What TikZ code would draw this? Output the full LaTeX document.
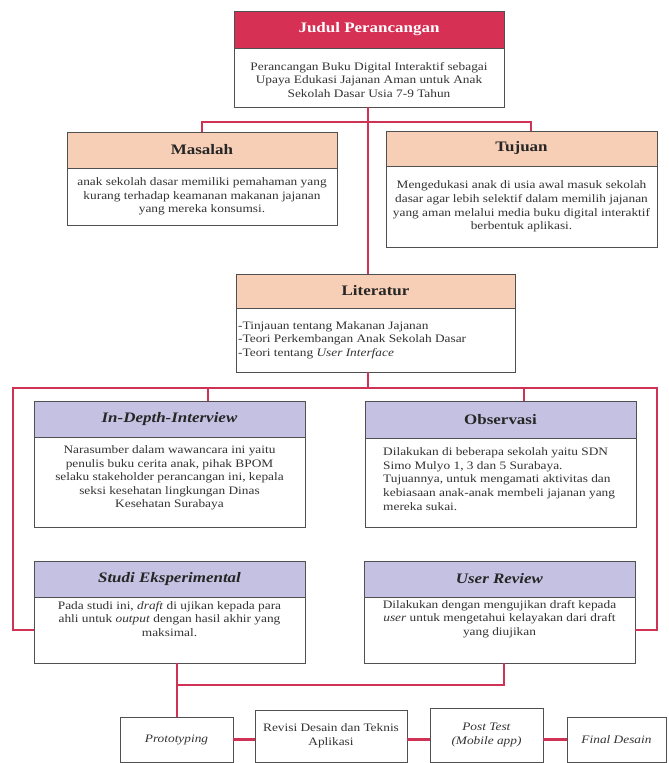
\documentclass[tikz,border=0pt]{standalone}
\usepackage{fontspec}
\setmainfont{Liberation Serif}[FakeStretch=1.17]
\definecolor{judulred}{RGB}{214,48,84}
\definecolor{linkred}{RGB}{208,50,86}
\definecolor{peach}{RGB}{247,206,182}
\definecolor{lilac}{RGB}{197,193,226}
\definecolor{edgegray}{RGB}{80,80,80}
\newcommand{\headfont}{\fontsize{14.5}{17}\selectfont\bfseries}
\newcommand{\bodyfont}{\fontsize{11.4}{13.6}\selectfont}
\tikzset{
  headbox/.style={
    draw=edgegray,
    line width=0.9pt,
    inner sep=0pt,
    font=\headfont,
    text=black!85
  },
  bodybox/.style={
    draw=edgegray,
    fill=white,
    line width=0.9pt,
    inner sep=0pt,
    align=center,
    font=\bodyfont,
    text=black!80
  },
  bodytext/.style={
    inner sep=0pt,
    font=\bodyfont,
    text=black!80
  },
  stepbox/.style={
    draw=edgegray,
    fill=white,
    line width=0.9pt,
    inner sep=0pt,
    align=center,
    font=\bodyfont,
    text=black!80
  },
  link/.style={
    draw=linkred,
    line width=2.6pt
  }
}

\begin{document}
\begin{tikzpicture}[x=1pt,y=-1pt]
  \useasboundingbox (0,0) rectangle (669,763);

  % judul
  \node[headbox,fill=judulred,text=white,minimum width=270pt,minimum height=37pt] (judulH) at (369,29.5) {Judul Perancangan};
  \node[bodybox,minimum width=270pt,minimum height=59pt] (judulB) at (369,77.5) {};
  \node[bodytext,align=center] (judulT) at (369,80)
    {Perancangan Buku Digital Interaktif sebagai\\Upaya Edukasi Jajanan Aman untuk Anak\\Sekolah Dasar Usia 7-9 Tahun};

  % masalah, tujuan
  \node[headbox,fill=peach,minimum width=270pt,minimum height=36pt] (masalahH) at (202,150) {Masalah};
  \node[bodybox,minimum width=270pt,minimum height=57pt] (masalahB) at (202,196.5)
    {anak sekolah dasar memiliki pemahaman yang\\kurang terhadap keamanan makanan jajanan\\yang mereka konsumsi.};
  \node[headbox,fill=peach,minimum width=271pt,minimum height=35pt] (tujuanH) at (521.5,148.5) {Tujuan};
  \node[bodybox,minimum width=271pt,minimum height=81pt] (tujuanB) at (521.5,206.5)
    {Mengedukasi anak di usia awal masuk sekolah\\dasar agar lebih selektif dalam memilih jajanan\\yang aman melalui media buku digital interaktif\\berbentuk aplikasi.};

  % literatur
  \node[headbox,fill=peach,minimum width=279pt,minimum height=34pt] (litH) at (375.5,291) {Literatur};
  \node[bodybox,minimum width=279pt,minimum height=64pt] (litB) at (375.5,340) {};
  \node[bodytext,align=left,anchor=west] (litT) at (238,340)
    {-Tinjauan tentang Makanan Jajanan\\-Teori Perkembangan Anak Sekolah Dasar\\-Teori tentang \textit{User Interface}};

  % metode
  \node[headbox,fill=lilac,minimum width=271pt,minimum height=36pt] (indepthH) at (169.5,419) {\textit{In-Depth-Interview}};
  \node[bodybox,minimum width=271pt,minimum height=90pt] (indepthB) at (169.5,482) {};
  \node[bodytext,align=center] (indepthT) at (169.5,478)
    {Narasumber dalam wawancara ini yaitu\\penulis buku cerita anak, pihak BPOM\\selaku stakeholder perancangan ini, kepala\\seksi kesehatan lingkungan Dinas\\Kesehatan Surabaya};
  \node[headbox,fill=lilac,minimum width=271pt,minimum height=37pt] (obsH) at (500.5,419.5) {Observasi};
  \node[bodybox,minimum width=271pt,minimum height=89pt] (obsB) at (500.5,482.5) {};
  \node[bodytext,align=left,anchor=west] (obsT) at (383,479)
    {Dilakukan di beberapa sekolah yaitu SDN\\Simo Mulyo 1, 3 dan 5 Surabaya.\\Tujuannya, untuk mengamati aktivitas dan\\kebiasaan anak-anak membeli jajanan yang\\mereka sukai.};

  \node[headbox,fill=lilac,minimum width=271pt,minimum height=36pt] (studiH) at (169.5,579) {\textit{Studi Eksperimental}};
  \node[bodybox,minimum width=271pt,minimum height=66pt] (studiB) at (169.5,630) {};
  \node[bodytext,align=center] (studiT) at (169.5,619)
    {Pada studi ini, \textit{draft} di ujikan kepada para\\ahli untuk \textit{output} dengan hasil akhir yang\\maksimal.};
  \node[headbox,fill=lilac,minimum width=271pt,minimum height=36pt] (reviewH) at (499.5,579) {\textit{User Review}};
  \node[bodybox,minimum width=271pt,minimum height=66pt] (reviewB) at (499.5,630) {};
  \node[bodytext,align=center] (reviewT) at (499.5,619)
    {Dilakukan dengan mengujikan draft kepada\\\textit{user} untuk mengetahui kelayakan dari draft\\yang diujikan};

  % tahap akhir
  \node[stepbox,minimum width=113pt,minimum height=45pt] (proto) at (176.5,739.5) {\textit{Prototyping}};
  \node[stepbox,minimum width=152pt,minimum height=52pt] (revisi) at (331,736) {Revisi Desain dan Teknis\\Aplikasi};
  \node[stepbox,minimum width=113pt,minimum height=54pt] (post) at (486.5,735) {\textit{Post Test}\\\textit{(Mobile app)}};
  \node[stepbox,minimum width=99pt,minimum height=45pt] (final) at (616.5,739.5) {\textit{Final Desain}};

  % connectors
  \coordinate (jn1) at (368,122);
  \coordinate (jn2) at (368,388);
  \coordinate (lft) at (13,388);
  \coordinate (rgt) at (657,388);
  \coordinate (jn3) at (177,685);

  \draw[link] (judulB.south -| jn1) -- (litH.north -| jn1);
  \draw[link] (masalahH.north) |- (jn1) -| ([xshift=9.5pt]tujuanH.north);
  \draw[link] (litB.south -| jn2) -- (jn2);
  \draw[link] (studiB.west) -| (lft) -- (rgt) |- (reviewB.east);
  \draw[link] ([xshift=38.5pt]indepthH.north) -- ([xshift=38.5pt]indepthH.north |- jn2);
  \draw[link] ([xshift=23.5pt]obsH.north) -- ([xshift=23.5pt]obsH.north |- jn2);
  \draw[link] (studiB.south -| jn3) -- (proto.north -| jn3);
  \draw[link] (jn3) -| ([xshift=4.5pt]reviewB.south);
  \draw[link] (proto.east) -- (proto.east -| revisi.west);
  \draw[link] (proto.east -| revisi.east) -- (proto.east -| post.west);
  \draw[link] (final.west) -- (final.west -| post.east);
\end{tikzpicture}
\end{document}
